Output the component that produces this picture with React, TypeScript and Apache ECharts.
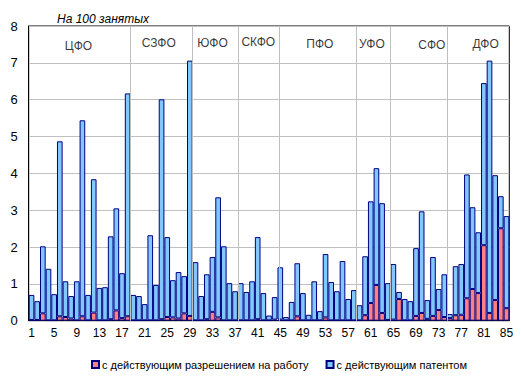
import React, { useEffect, useRef } from "react";
import * as echarts from "echarts";

const regions: string[] = Array.from({ length: 85 }, (_, i) => String(i + 1));

// с действующим разрешением на работу (per 100 employed)
const workPermit: number[] = [
  0.02, 0.02, 0.20, 0.01, 0.01, 0.12, 0.10, 0.06, 0.01, 0.12,
  0.01, 0.22, 0.01, 0.01, 0.04, 0.28, 0.07, 0.12, 0.01, 0.01,
  0.01, 0.01, 0.01, 0.04, 0.10, 0.09, 0.06, 0.20, 0.13, 0.01,
  0.01, 0.04, 0.24, 0.09, 0.01, 0.01, 0.01, 0.01, 0.01, 0.01,
  0.04, 0.01, 0.01, 0.03, 0.03, 0.01, 0.01, 0.12, 0.01, 0.01,
  0.01, 0.01, 0.09, 0.01, 0.01, 0.01, 0.01, 0.01, 0.01, 0.15,
  0.48, 0.97, 0.21, 0.02, 0.03, 0.59, 0.01, 0.01, 0.13, 0.21,
  0.05, 0.13, 0.29, 0.10, 0.07, 0.15, 0.16, 0.61, 0.86, 0.75,
  2.05, 0.21, 0.56, 2.51, 0.34,
];

// с действующим патентом (per 100 employed)
const patent: number[] = [
  0.68, 0.51, 1.82, 1.40, 0.71, 4.75, 0.97, 0.61, 1.06, 5.32,
  0.69, 3.62, 0.88, 0.90, 2.25, 2.77, 1.22, 6.05, 0.69, 0.66,
  0.44, 2.31, 0.96, 5.97, 2.17, 1.01, 1.26, 1.01, 6.93, 1.58,
  0.66, 1.22, 1.49, 3.26, 2.01, 1.01, 0.79, 1.01, 0.77, 1.06,
  2.23, 0.74, 0.13, 0.61, 1.42, 0.09, 0.50, 1.44, 0.74, 0.15,
  1.06, 0.25, 1.72, 1.04, 0.79, 1.61, 0.58, 0.82, 0.41, 1.60,
  2.76, 3.17, 2.98, 1.00, 1.51, 0.19, 0.58, 0.52, 1.84, 2.76,
  0.51, 1.60, 0.57, 1.16, 0.11, 1.33, 1.38, 3.36, 2.22, 1.65,
  4.40, 6.85, 3.39, 0.87, 2.50,
];

// boundaries between federal districts (in region-count units)
const districtBounds: number[] = [18, 29, 37, 44.3, 57.9, 63.9, 74];

const districtNames: string[] = ["ЦФО", "СЗФО", "ЮФО", "СКФО", "ПФО", "УФО", "СФО", "ДФО"];
const districtLabelX: number[] = [8.8, 23.0, 32.5, 40.6, 51.5, 60.7, 71.3, 80.8];
const districtLabelY: number[] = [7.45, 7.54, 7.55, 7.56, 7.5, 7.52, 7.48, 7.52];

const seriesNames: string[] = ["с действующим разрешением на работу", "с действующим патентом"];

export default function App() {
  const ref = useRef<HTMLDivElement>(null);
  useEffect(() => {
    if (!ref.current) return;
    const chart = echarts.init(ref.current, undefined, { renderer: "svg" });
    const font = "Arial, 'Liberation Sans', sans-serif";
    chart.setOption({
      animation: false,
      backgroundColor: "#ffffff",
      textStyle: { fontFamily: font },
      title: {
        text: "На 100 занятых",
        left: 52,
        top: 8,
        textStyle: { fontSize: 12, fontStyle: "italic", fontWeight: "normal", color: "#000", fontFamily: font },
      },
      grid: {
        left: 28.7,
        right: 11.7,
        top: 26,
        bottom: 56.3,
        show: true,
        borderColor: "#000",
        borderWidth: 1,
        containLabel: false,
      },
      legend: {
        left: 86,
        top: 354,
        itemWidth: 7,
        itemHeight: 7,
        itemGap: 17,
        icon: "rect",
        textStyle: { fontSize: 11, color: "#000", fontFamily: font, padding: [0, 0, 0, -2] },
        data: seriesNames,
      },
      xAxis: [
        {
          type: "category",
          data: regions,
          axisLine: { show: true, lineStyle: { color: "#000", width: 1 } },
          axisTick: { show: false },
          axisLabel: { interval: 3, color: "#000", fontSize: 12, margin: 6, fontFamily: font },
          splitLine: { show: false },
        },
        {
          type: "value",
          min: 0,
          max: 85,
          show: false,
          splitLine: { show: false },
        },
      ],
      yAxis: {
        type: "value",
        min: 0,
        max: 8,
        interval: 1,
        axisLine: { show: true, lineStyle: { color: "#000", width: 1 } },
        axisTick: { show: false },
        axisLabel: { color: "#000", fontSize: 13, margin: 11, fontFamily: font },
        splitLine: { show: true, lineStyle: { color: "#c0c0c0", width: 1, type: "solid" } },
      },
      series: [
        {
          name: seriesNames[0],
          type: "bar",
          stack: "total",
          data: workPermit,
          barCategoryGap: "0%",
          z: 3,
          itemStyle: { color: "#ff8080", borderColor: "#000080", borderWidth: 1 },
        },
        {
          name: seriesNames[1],
          type: "bar",
          stack: "total",
          data: patent,
          barCategoryGap: "0%",
          z: 3,
          itemStyle: { color: "#80c8ff", borderColor: "#000080", borderWidth: 1 },
        },
        {
          name: "districts",
          type: "scatter",
          xAxisIndex: 1,
          z: 1,
          symbol: "rect",
          symbolSize: 1,
          itemStyle: { color: "rgba(0,0,0,0)" },
          silent: true,
          data: districtNames.map((n, i) => ({ name: n, value: [districtLabelX[i], districtLabelY[i]] })),
          label: {
            show: true,
            position: "inside",
            formatter: (p: any) => p.name,
            color: "#000",
            fontSize: 12,
            fontFamily: font,
          },
          markLine: {
            silent: true,
            symbol: ["none", "none"],
            label: { show: false },
            lineStyle: { color: "#c0c0c0", width: 1, type: "solid" },
            data: districtBounds.map((b) => ({ xAxis: b })),
          },
        },
      ],
    });
    return () => chart.dispose();
  }, []);
  return <div ref={ref} style={{ position: "fixed", left: 0, top: 0, width: 521, height: 377 }} />;
}
